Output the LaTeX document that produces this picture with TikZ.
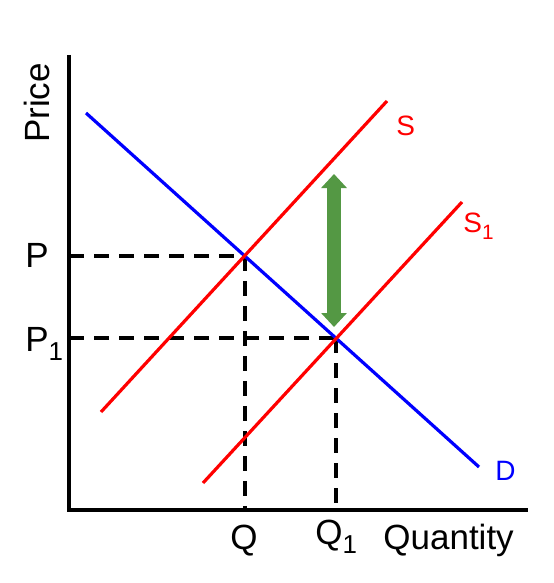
\documentclass[tikz,border=0pt]{standalone}
\usepackage{fontspec}
\setmainfont{Liberation Sans}
\usepackage{tikz}
\usetikzlibrary{arrows.meta,intersections}

\definecolor{shiftgreen}{RGB}{84,152,68}
\newcommand{\lowsub}[1]{\raisebox{-0.28em}{\scalebox{0.74}{#1}}}

\begin{document}
\begin{tikzpicture}[x=0.5pt,y=-0.5pt,
  lbl/.style={font=\fontsize{17.5}{21}\selectfont, inner sep=0pt},
  curvelbl/.style={font=\fontsize{14}{17}\selectfont, inner sep=0pt},
  axis/.style={line width=2pt},
  guide/.style={line width=2pt, dash pattern=on 7.5pt off 5pt},
  curve/.style={line width=1.6pt},
  shiftarrow/.style={draw=shiftgreen, line width=7pt,
    {Triangle[width=12.5pt,length=7pt]}-{Triangle[width=12.5pt,length=7pt]}}]
\useasboundingbox (0,0) rectangle (553,583);

% Axes
\coordinate (top) at (69,55);
\coordinate (origin) at (69,510);
\coordinate (right) at (528,510);
\draw[axis] (top) -- (origin) -- (right);

% Demand and the two supply curves
\coordinate (d0) at (86,113);
\coordinate (d1) at (479,467);
\coordinate (s0) at (101,412);
\coordinate (s1) at (387,101);
\coordinate (t0) at (203,483);
\coordinate (t1) at (462,202);
\path[name path=dem] (d0) -- (d1);
\path[name path=sup] (s0) -- (s1);
\path[name path=supb] (t0) -- (t1);
\path[name intersections={of=dem and sup, by=eq}];
\path[name intersections={of=dem and supb, by=eqb}];

% Dashed guides
\draw[guide] (eq -| origin) -- (eq);
\draw[guide] (eq) -- (eq |- origin);
\draw[guide] (eqb -| origin) -- (eqb);
\draw[guide] (eqb) -- (eqb |- origin);

\draw[curve, blue] (d0) -- (d1);
\draw[curve, red] (s0) -- (s1);
\draw[curve, red] (t0) -- (t1);

% Shift arrow
\coordinate (up) at (334,174);
\coordinate (down) at (334,327);
\draw[shiftarrow] (down) -- (up);

% Labels
\node[lbl, rotate=90] (price) at (37,103) {Price};
\node[lbl, anchor=base west] (p) at (25,267) {P};
\node[lbl, anchor=base west] (p1) at (25,351) {P\lowsub{1}};
\node[lbl, anchor=base] (q) at (244,549) {Q};
\node[lbl, anchor=base west] (q1) at (315,544) {Q\lowsub{1}};
\node[lbl, anchor=base west] (qty) at (383,549) {Quantity};
\node[curvelbl, red, anchor=base west] (slab) at (396,135) {S};
\node[curvelbl, red, anchor=base west] (s1lab) at (463,232) {S\lowsub{1}};
\node[curvelbl, blue, anchor=base west] (dlab) at (495,480) {D};
\end{tikzpicture}
\end{document}
